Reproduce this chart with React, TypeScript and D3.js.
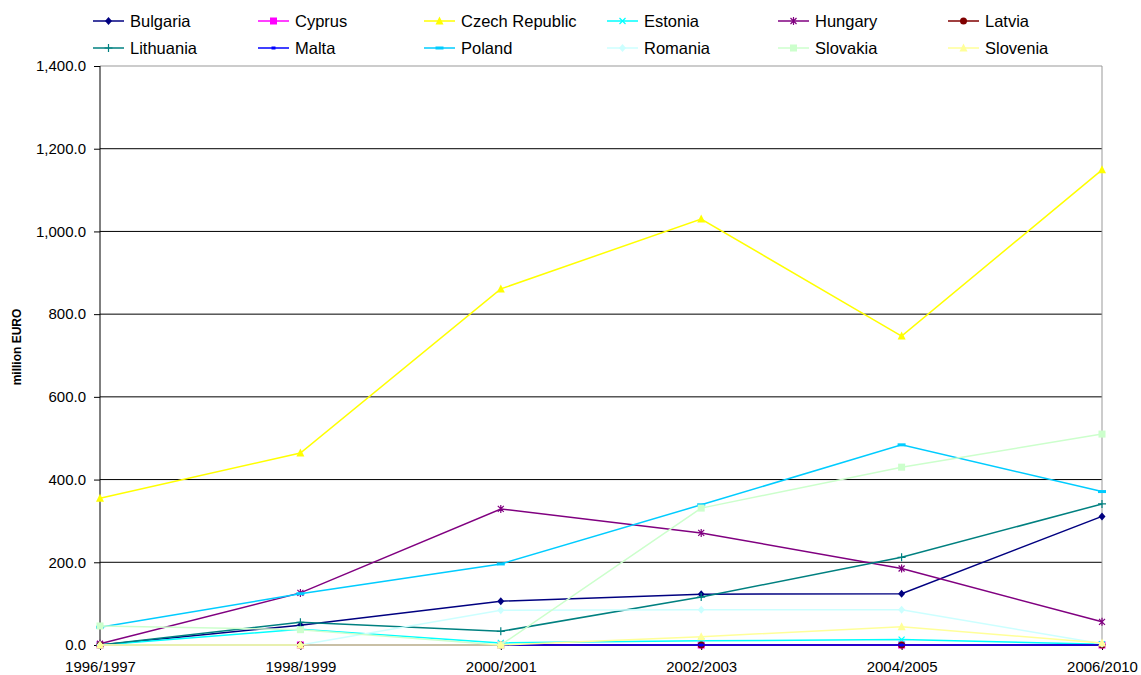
import * as d3 from "d3";
import { useEffect, useRef } from "react";

const periods = ["1996/1997", "1998/1999", "2000/2001", "2002/2003", "2004/2005", "2006/2010"];

const bulgaria = [0, 48, 106, 123, 124, 311];
const cyprus = [0, 0, 0, 0, 0, 0];
const czechRepublic = [355, 464, 861, 1030, 747, 1149];
const estonia = [0, 38, 5, 10, 13, 2];
const hungary = [3, 126, 329, 271, 185, 56];
const latvia = [0, 0, 0, 0, 0, 0];
const lithuania = [0, 55, 33, 116, 212, 341];
const malta = [0, 0, 0, 0, 0, 0];
const poland = [43, 124, 196, 339, 484, 371];
const romania = [0, 0, 84, 85, 85, 3];
const slovakia = [46, 37, 0, 331, 430, 510];
const slovenia = [0, 0, 0, 20, 44, 5];

const yTicks = [0, 200, 400, 600, 800, 1000, 1200, 1400];

type Marker = "diamond" | "square" | "triangle" | "x" | "star" | "circle" | "plus" | "shortdash" | "longdash";

interface Series {
  name: string;
  values: number[];
  color: string;
  marker: Marker;
}

const series: Series[] = [
  { name: "Bulgaria", values: bulgaria, color: "#000080", marker: "diamond" },
  { name: "Cyprus", values: cyprus, color: "#FF00FF", marker: "square" },
  { name: "Czech Republic", values: czechRepublic, color: "#FFFF00", marker: "triangle" },
  { name: "Estonia", values: estonia, color: "#00FFFF", marker: "x" },
  { name: "Hungary", values: hungary, color: "#800080", marker: "star" },
  { name: "Latvia", values: latvia, color: "#800000", marker: "circle" },
  { name: "Lithuania", values: lithuania, color: "#008080", marker: "plus" },
  { name: "Malta", values: malta, color: "#0000FF", marker: "shortdash" },
  { name: "Poland", values: poland, color: "#00CCFF", marker: "longdash" },
  { name: "Romania", values: romania, color: "#CCFFFF", marker: "diamond" },
  { name: "Slovakia", values: slovakia, color: "#CCFFCC", marker: "square" },
  { name: "Slovenia", values: slovenia, color: "#FFFF99", marker: "triangle" },
];

// legend column x (line start) and row y, as laid out by the original
const legendCols = [93, 258, 424, 607, 778, 948];
const legendRows = [21, 48];

function drawMarker(
  g: d3.Selection<SVGGElement, unknown, null, undefined>,
  kind: Marker,
  x: number,
  y: number,
  color: string
) {
  const s = 3.5;
  switch (kind) {
    case "diamond":
      g.append("path")
        .attr("d", `M${x},${y - s - 0.5}L${x + s},${y}L${x},${y + s + 0.5}L${x - s},${y}Z`)
        .attr("fill", color);
      break;
    case "square":
      g.append("rect")
        .attr("x", x - s)
        .attr("y", y - s)
        .attr("width", 2 * s)
        .attr("height", 2 * s)
        .attr("fill", color);
      break;
    case "triangle":
      g.append("path")
        .attr("d", `M${x},${y - s - 1}L${x + s + 0.5},${y + s}L${x - s - 0.5},${y + s}Z`)
        .attr("fill", color);
      break;
    case "circle":
      g.append("circle").attr("cx", x).attr("cy", y).attr("r", s).attr("fill", color);
      break;
    case "x":
      g.append("path")
        .attr("d", `M${x - 3},${y - 3}L${x + 3},${y + 3}M${x - 3},${y + 3}L${x + 3},${y - 3}`)
        .attr("stroke", color)
        .attr("stroke-width", 1.2);
      break;
    case "star":
      g.append("path")
        .attr(
          "d",
          `M${x - 3},${y - 3}L${x + 3},${y + 3}M${x - 3},${y + 3}L${x + 3},${y - 3}M${x},${y - 4}L${x},${y + 4}`
        )
        .attr("stroke", color)
        .attr("stroke-width", 1.2);
      break;
    case "plus":
      g.append("path")
        .attr("d", `M${x - 4},${y}L${x + 4},${y}M${x},${y - 4}L${x},${y + 4}`)
        .attr("stroke", color)
        .attr("stroke-width", 1.2);
      break;
    case "shortdash":
      g.append("rect").attr("x", x - 2).attr("y", y - 1.5).attr("width", 4).attr("height", 3).attr("fill", color);
      break;
    case "longdash":
      g.append("rect").attr("x", x - 4).attr("y", y - 1.5).attr("width", 8).attr("height", 3).attr("fill", color);
      break;
  }
}

export default function App() {
  const ref = useRef<SVGSVGElement | null>(null);

  useEffect(() => {
    const svg = d3.select(ref.current);
    svg.selectAll("*").remove();

    const width = 1141;
    const height = 675;
    const left = 100;
    const right = 1102;
    const top = 66;
    const bottom = 645;
    const font = "'Liberation Sans', Arial, sans-serif";

    svg.attr("width", width).attr("height", height);

    const x = d3.scalePoint<string>().domain(periods).range([left, right]);
    const y = d3.scaleLinear().domain([0, 1400]).range([bottom, top]);

    const root = svg.append("g");

    // gridlines
    root
      .append("g")
      .selectAll("line")
      .data(yTicks.filter((t) => t > 0 && t < 1400))
      .enter()
      .append("line")
      .attr("x1", left)
      .attr("x2", right)
      .attr("y1", (d) => y(d))
      .attr("y2", (d) => y(d))
      .attr("stroke", "#000")
      .attr("stroke-width", 1);

    // plot border (top and right in gray)
    root
      .append("path")
      .attr("d", `M${left},${y(1400)}H${right}V${bottom}`)
      .attr("fill", "none")
      .attr("stroke", "#999");

    // y axis
    const yAxis = root
      .append("g")
      .attr("transform", `translate(${left},0)`)
      .call(
        d3
          .axisLeft(y)
          .tickValues(yTicks)
          .tickSize(6)
          .tickPadding(8)
          .tickFormat((d) => d3.format(",.1f")(d as number))
      );
    yAxis.select(".domain").attr("stroke", "#000").attr("d", `M0,${top}V${bottom}`);
    yAxis.selectAll(".tick line").attr("stroke", "#000");
    yAxis
      .selectAll(".tick text")
      .attr("fill", "#000")
      .style("font-family", font)
      .style("font-size", "15px");

    // x axis
    const xAxis = root
      .append("g")
      .attr("transform", `translate(0,${bottom})`)
      .call(d3.axisBottom(x).tickSize(5).tickPadding(11));
    xAxis.select(".domain").attr("stroke", "#000").attr("d", `M${left},0H${right}`);
    xAxis.selectAll(".tick line").attr("stroke", "#000");
    xAxis
      .selectAll(".tick text")
      .attr("fill", "#000")
      .style("font-family", font)
      .style("font-size", "15px");

    // y title
    root
      .append("text")
      .attr("transform", `translate(21,347) rotate(-90)`)
      .attr("text-anchor", "middle")
      .style("font-family", font)
      .style("font-size", "12px")
      .style("font-weight", "bold")
      .text("million EURO");

    const line = d3
      .line<number>()
      .x((_, i) => x(periods[i]) as number)
      .y((d) => y(d));

    series.forEach((s) => {
      const g = root.append("g");
      g.append("path")
        .attr("d", line(s.values) || "")
        .attr("fill", "none")
        .attr("stroke", s.color)
        .attr("stroke-width", 1.5);
      s.values.forEach((v, i) => drawMarker(g, s.marker, x(periods[i]) as number, y(v), s.color));
    });

    // legend
    const legend = root.append("g");
    series.forEach((s, i) => {
      const lx = legendCols[i % 6];
      const ly = legendRows[Math.floor(i / 6)];
      const g = legend.append("g");
      g.append("line")
        .attr("x1", lx)
        .attr("x2", lx + 31)
        .attr("y1", ly)
        .attr("y2", ly)
        .attr("stroke", s.color)
        .attr("stroke-width", 1.5);
      drawMarker(g, s.marker, lx + 15.5, ly, s.color);
      g.append("text")
        .attr("x", lx + 37)
        .attr("y", ly)
        .attr("dy", "0.35em")
        .style("font-family", font)
        .style("font-size", "16.5px")
        .attr("fill", "#000")
        .text(s.name);
    });
  }, []);

  return (
    <div style={{ position: "absolute", left: 0, top: 0 }}>
      <svg ref={ref}></svg>
    </div>
  );
}
